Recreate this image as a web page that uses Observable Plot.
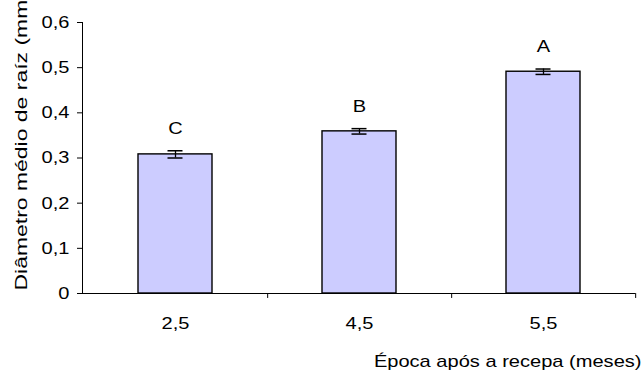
<!DOCTYPE html>
<html>
<head>
<meta charset="utf-8">
<script src="https://cdn.jsdelivr.net/npm/d3@7"></script>
<script src="https://cdn.jsdelivr.net/npm/@observablehq/plot@0.6"></script>
<style>
  html, body { margin: 0; padding: 0; background: #fff; }
  #chart svg { display: block; }
</style>
</head>
<body>
<div id="chart"></div>
<script>
const categories = ["2,5", "4,5", "5,5"];
const means = [0.308, 0.359, 0.491];
const errors = [0.008, 0.006, 0.006];
const letters = ["C", "B", "A"];
const yTicks = [0, 0.1, 0.2, 0.3, 0.4, 0.5, 0.6];
const xTitle = "Época após a recepa (meses)";
const yTitle = "Diâmetro médio de raíz (mm)";

const data = categories.map((c, i) => ({
  cat: c, mean: means[i], lo: means[i] - errors[i], hi: means[i] + errors[i], letter: letters[i]
}));

const fmt = d => d === 0 ? "0" : d.toFixed(1).replace(".", ",");

const W = 644, H = 373;
const mL = 82, mR = 9, mT = 22, mB = 80;
const step = (W - mL - mR) / categories.length;
const FS = 17;

const chart = Plot.plot({
  width: W,
  height: H,
  marginLeft: mL,
  marginRight: mR,
  marginTop: mT,
  marginBottom: mB,
  style: { fontFamily: "'Liberation Sans', Arial, sans-serif", fontSize: FS + "px", color: "#000", background: "#fff" },
  x: { type: "band", domain: categories, paddingInner: 0.6, paddingOuter: 0.3 },
  y: { domain: [0, 0.6] },
  marks: [
    Plot.barY(data, { x: "cat", y: "mean", fill: "#ccccff", stroke: "#000", strokeWidth: 1.4 }),
    Plot.ruleX(data, { x: "cat", y1: "lo", y2: "hi", stroke: "#000", strokeWidth: 1.3 }),
    Plot.tickY(data, { x: "cat", y: "lo", stroke: "#000", strokeWidth: 1.5, insetLeft: 29.5, insetRight: 29.5 }),
    Plot.tickY(data, { x: "cat", y: "hi", stroke: "#000", strokeWidth: 1.5, insetLeft: 29.5, insetRight: 29.5 }),
    Plot.text(data, { x: "cat", y: "hi", text: "letter", dy: -22, lineAnchor: "middle", fontSize: FS, fill: "#000" }),
    Plot.ruleY([0], { stroke: "#000", strokeWidth: 1 }),
    Plot.ruleX(categories, { x: d => d, dx: step / 2, y1: 0, y2: -0.011, stroke: "#000", strokeWidth: 1 }),
    Plot.frame({ anchor: "left", stroke: "#000", strokeWidth: 1 }),
    Plot.axisY({ ticks: yTicks, tickFormat: fmt, tickSize: 5, tickPadding: 8, fontSize: FS, label: null, stroke: "#000" }),
    Plot.axisX({ tickSize: 0, tickPadding: 23, fontSize: FS, label: null }),
    Plot.text([xTitle], { frameAnchor: "bottom-right", text: d => d, textAnchor: "end", lineAnchor: "middle", dx: 6, dy: 68, fontSize: FS, fill: "#000" }),
    Plot.text([yTitle], { frameAnchor: "bottom-left", text: d => d, rotate: -90, textAnchor: "start", lineAnchor: "middle", dx: -61, dy: -3, fontSize: FS, fill: "#000" })
  ]
});
document.getElementById("chart").appendChild(chart);

// The reference's lettering is wider than Liberation Sans: widen glyphs to match.
chart.querySelectorAll("text").forEach(t => {
  const len = t.getComputedTextLength();
  if (!len) return;
  const k = t.textContent === yTitle ? 1.35 : 1.18;
  t.setAttribute("textLength", (len * k).toFixed(2));
  t.setAttribute("lengthAdjust", "spacingAndGlyphs");
});
</script>
</body>
</html>
